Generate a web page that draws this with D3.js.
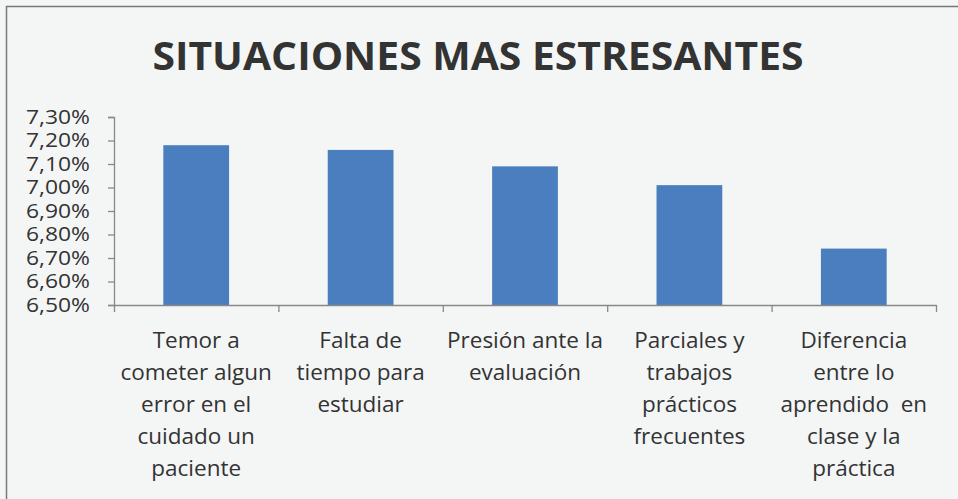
<!doctype html>
<html>
<head>
<meta charset="utf-8">
<title>Situaciones mas estresantes</title>
<script src="https://d3js.org/d3.v7.min.js"></script>
<style>
  body { margin: 0; background: #f4f6f6; }
  svg { display: block; }
  text { font-variant-ligatures: none; }
</style>
</head>
<body>
<script>

    var categories = [
        ["Temor a", "cometer algun", "error en el", "cuidado un", "paciente"],
        ["Falta de", "tiempo para", "estudiar"],
        ["Presión ante la", "evaluación"],
        ["Parciales y", "trabajos", "prácticos", "frecuentes"],
        ["Diferencia", "entre lo", "aprendido  en", "clase y la", "práctica"]
    ];
    var values = [7.18, 7.16, 7.09, 7.01, 6.74];
    var yTicks = [6.5, 6.6, 6.7, 6.8, 6.9, 7.0, 7.1, 7.2, 7.3];

    var width = 958, height = 499;
    var fontName = "'Open Sans', Lato, sans-serif";

    var svg = d3.select("body").append("svg")
        .attr("width", width)
        .attr("height", height);

    // outer frame (only top and left edges show in the scan)
    svg.append("path")
        .attr("d", "M6.5," + height + "V6.5H" + width)
        .attr("fill", "none")
        .attr("stroke", "#777")
        .attr("stroke-width", 1.5);

    svg.append("text")
        .attr("x", 478)
        .attr("y", 70)
        .attr("text-anchor", "middle")
        .attr("font-family", fontName)
        .attr("font-weight", "bold")
        .attr("font-size", "39px")
        .attr("fill", "#333")
        .attr("textLength", 651)
        .attr("lengthAdjust", "spacingAndGlyphs")
        .text("SITUACIONES MAS ESTRESANTES");

    var plotLeft = 114, plotRight = 936, plotTop = 117, plotBottom = 305;

    var x = d3.scaleBand()
        .domain(d3.range(categories.length))
        .range([plotLeft, plotRight])
        .paddingInner(0.6)
        .paddingOuter(0.3);

    var y = d3.scaleLinear()
        .domain([6.5, 7.3])
        .range([plotBottom, plotTop]);

    svg.selectAll("rect.bar")
        .data(values)
        .enter().append("rect")
        .attr("class", "bar")
        .attr("x", function(d, i) { return x(i); })
        .attr("y", function(d) { return y(d); })
        .attr("width", x.bandwidth())
        .attr("height", function(d) { return plotBottom - y(d); })
        .attr("fill", "#4a7ebf");

    // y axis
    var yAxis = d3.axisLeft(y)
        .tickValues(yTicks)
        .tickSize(6)
        .tickSizeOuter(6)
        .tickPadding(18)
        .tickFormat(function(d) { return d.toFixed(2).replace(".", ",") + "%"; });

    var gy = svg.append("g")
        .attr("transform", "translate(" + plotLeft + ",0)")
        .call(yAxis);
    gy.select(".domain").attr("stroke", "#888").attr("stroke-width", 1.3);
    gy.selectAll(".tick line").attr("stroke", "#888").attr("stroke-width", 1.3);
    gy.selectAll(".tick text")
        .attr("font-family", fontName)
        .attr("font-size", "20px")
        .attr("fill", "#333")
        .attr("textLength", 64)
        .attr("lengthAdjust", "spacingAndGlyphs");

    // x axis: ticks at category boundaries
    var xb = d3.scaleLinear().domain([0, categories.length]).range([plotLeft, plotRight]);
    var xAxis = d3.axisBottom(xb)
        .tickValues(d3.range(categories.length + 1))
        .tickSize(7)
        .tickSizeOuter(0)
        .tickFormat("");
    var gx = svg.append("g")
        .attr("transform", "translate(0," + plotBottom + ")")
        .call(xAxis);
    gx.select(".domain").attr("stroke", "#888").attr("stroke-width", 1.3);
    gx.selectAll(".tick line").attr("stroke", "#888").attr("stroke-width", 1.3);

    // category labels
    var labels = svg.selectAll("text.cat")
        .data(categories)
        .enter().append("text")
        .attr("class", "cat")
        .attr("text-anchor", "middle")
        .attr("font-family", fontName)
        .attr("font-size", "22.5px")
        .attr("fill", "#333")
        .attr("y", 348);

    labels.selectAll("tspan")
        .data(function(d, i) { return d.map(function(t) { return { t: t, i: i }; }); })
        .enter().append("tspan")
        .attr("x", function(d) { return x(d.i) + x.bandwidth() / 2; })
        .attr("dy", function(d, j) { return j === 0 ? 0 : 32; })
        .attr("xml:space", "preserve")
        .text(function(d) { return d.t; });

</script>
</body>
</html>
